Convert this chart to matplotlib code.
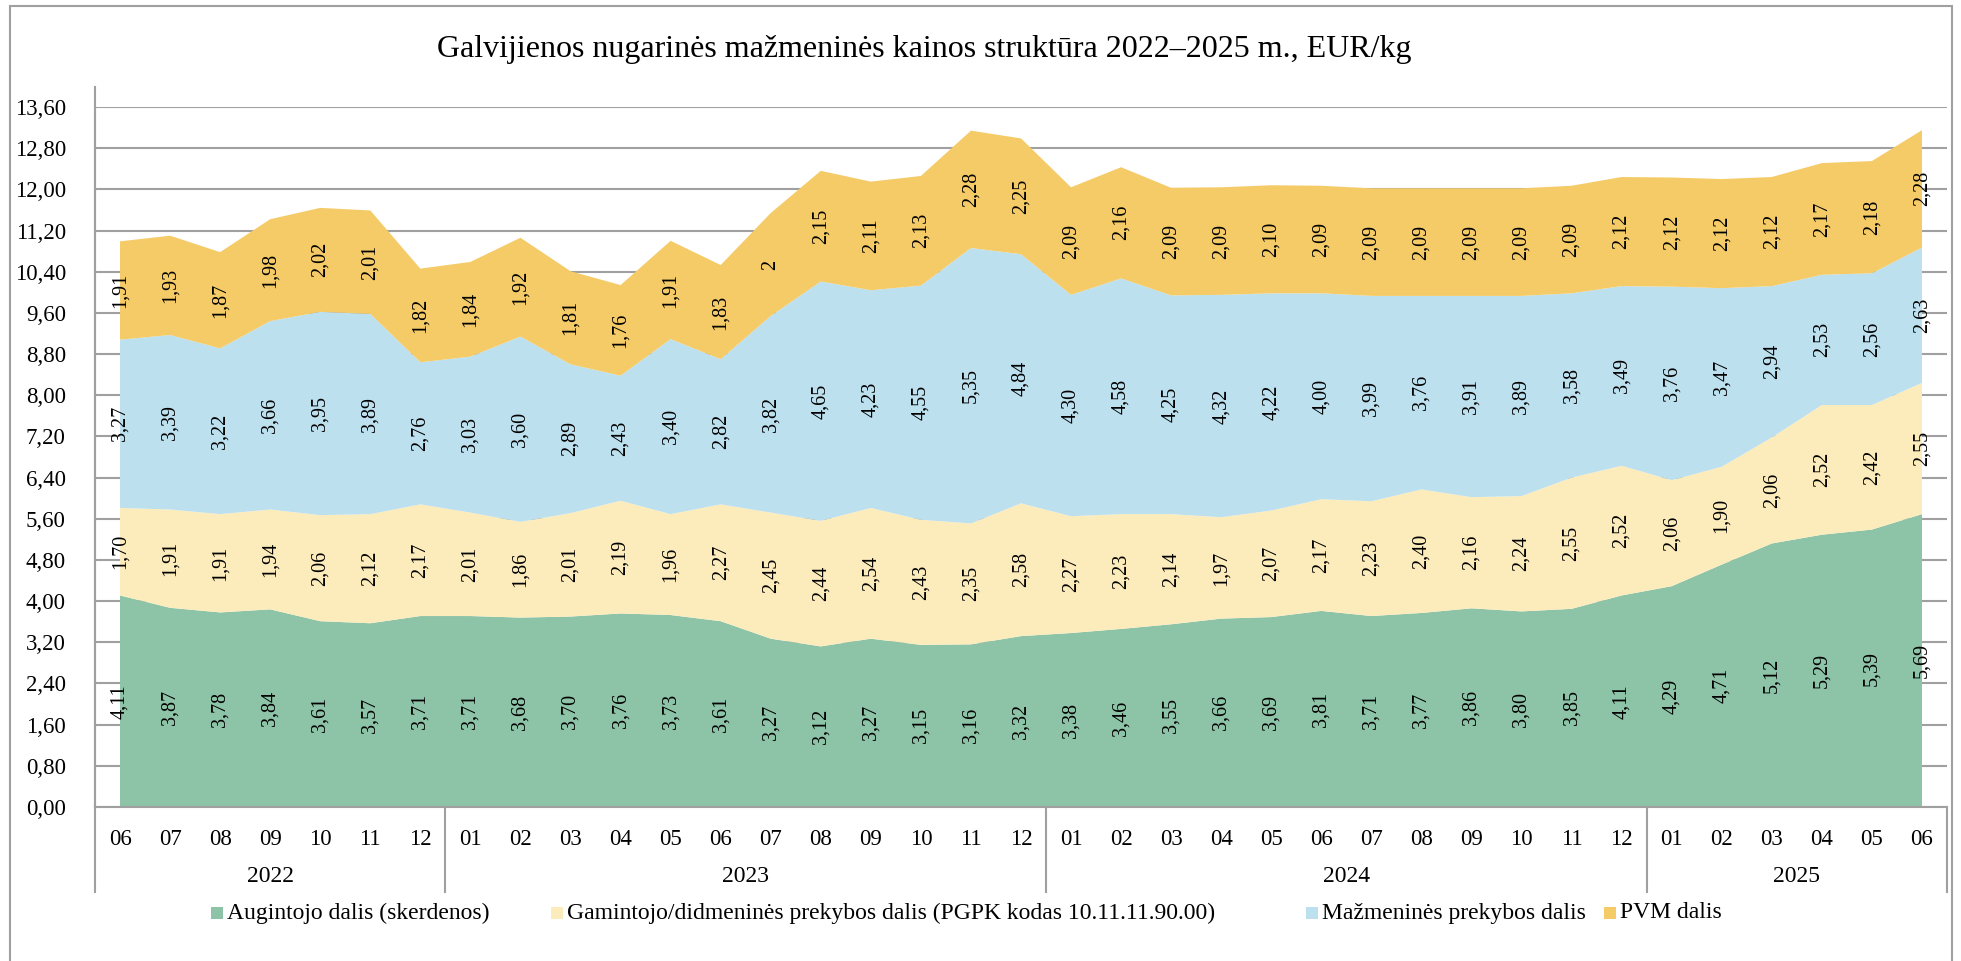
import matplotlib
matplotlib.use("Agg")
import matplotlib.pyplot as plt
from matplotlib.patches import Rectangle
import numpy as np

plt.rcParams["font.family"] = ["Liberation Serif", "DejaVu Serif"]

months = ["06", "07", "08", "09", "10", "11", "12",
          "01", "02", "03", "04", "05", "06", "07", "08", "09", "10", "11", "12",
          "01", "02", "03", "04", "05", "06", "07", "08", "09", "10", "11", "12",
          "01", "02", "03", "04", "05", "06"]
years = ["2022", "2023", "2024", "2025"]
year_sizes = [7, 12, 12, 6]

augintojo = [4.11, 3.87, 3.78, 3.84, 3.61, 3.57, 3.71,
             3.71, 3.68, 3.70, 3.76, 3.73, 3.61, 3.27, 3.12, 3.27, 3.15, 3.16, 3.32,
             3.38, 3.46, 3.55, 3.66, 3.69, 3.81, 3.71, 3.77, 3.86, 3.80, 3.85, 4.11,
             4.29, 4.71, 5.12, 5.29, 5.39, 5.69]
gamintojo = [1.70, 1.91, 1.91, 1.94, 2.06, 2.12, 2.17,
             2.01, 1.86, 2.01, 2.19, 1.96, 2.27, 2.45, 2.44, 2.54, 2.43, 2.35, 2.58,
             2.27, 2.23, 2.14, 1.97, 2.07, 2.17, 2.23, 2.40, 2.16, 2.24, 2.55, 2.52,
             2.06, 1.90, 2.06, 2.52, 2.42, 2.55]
mazmenines = [3.27, 3.39, 3.22, 3.66, 3.95, 3.89, 2.76,
              3.03, 3.60, 2.89, 2.43, 3.40, 2.82, 3.82, 4.65, 4.23, 4.55, 5.35, 4.84,
              4.30, 4.58, 4.25, 4.32, 4.22, 4.00, 3.99, 3.76, 3.91, 3.89, 3.58, 3.49,
              3.76, 3.47, 2.94, 2.53, 2.56, 2.63]
pvm = [1.91, 1.93, 1.87, 1.98, 2.02, 2.01, 1.82,
       1.84, 1.92, 1.81, 1.76, 1.91, 1.83, 2.00, 2.15, 2.11, 2.13, 2.28, 2.25,
       2.09, 2.16, 2.09, 2.09, 2.10, 2.09, 2.09, 2.09, 2.09, 2.09, 2.09, 2.12,
       2.12, 2.12, 2.12, 2.17, 2.18, 2.28]

series_names = ["Augintojo dalis (skerdenos)",
                "Gamintojo/didmeninės prekybos dalis (PGPK kodas 10.11.11.90.00)",
                "Mažmeninės prekybos dalis",
                "PVM dalis"]
colors = ["#8dc3a7", "#fdecbb", "#bde0ef", "#f4cb67"]
title = "Galvijienos nugarinės mažmeninės kainos struktūra 2022–2025 m., EUR/kg"


def fmt(v, drop_int=False):
    # the PVM series in the source shows a whole value without decimals ("2")
    if drop_int and float(v).is_integer():
        return str(int(v))
    return f"{v:.2f}".replace(".", ",")


W, H = 1961, 961
fig = plt.figure(figsize=(W / 100, H / 100), dpi=100, facecolor="white")

# outer chart border
fig.patches.append(Rectangle((10 / W, -0.05), 1942 / W, 1.05 - 6 / H,
                             transform=fig.transFigure, fill=False,
                             edgecolor="#a0a0a0", linewidth=1.5))

ax = fig.add_axes([95 / W, 1 - 807 / H, 1852 / W, 700 / H])
x = np.arange(len(months))
data = [augintojo, gamintojo, mazmenines, pvm]
ax.stackplot(x, *data, colors=colors, linewidth=0, zorder=2)

ax.set_xlim(-0.5, len(months) - 0.5)
ax.set_ylim(0, 13.6)
yt = np.arange(0, 13.61, 0.8)
ax.set_yticks(yt)
ax.set_yticklabels([f"{v:.2f}".replace(".", ",") for v in yt], fontsize=16.5)
ax.tick_params(axis="y", length=0, pad=21)
ax.grid(axis="y", color="#a0a0a0", linewidth=1.5, zorder=0)
ax.set_axisbelow(True)

ax.set_xticks(x)
ax.set_xticklabels(months, fontsize=16.5)
ax.tick_params(axis="x", length=0, pad=16)

for s in ["top", "right"]:
    ax.spines[s].set_visible(False)
for s in ["left", "bottom"]:
    ax.spines[s].set_color("#a0a0a0")
    ax.spines[s].set_linewidth(1.5)

# data labels
base = np.zeros(len(months))
for k, vals in enumerate(data):
    vals = np.array(vals)
    for i, v in enumerate(vals):
        ax.text(i, base[i] + v / 2, fmt(v, drop_int=(k == 3)), rotation=90,
                ha="center", va="center", fontsize=14.5, zorder=4)
    base += vals

# multi-level category axis
trans = ax.get_xaxis_transform()
sep_y = -85 / 700
start = 0
bounds = [-0.5]
for yr, n in zip(years, year_sizes):
    center = start + (n - 1) / 2
    ax.text(center, -70 / 700, yr, transform=trans, ha="center", va="center", fontsize=17)
    start += n
    bounds.append(start - 0.5)
for b in bounds:
    ax.plot([b, b], [0, sep_y], transform=trans, color="#a0a0a0", linewidth=1.5,
            clip_on=False, zorder=5)
ax.plot([-0.5, -0.5], [0, 1 + 20 / 700], transform=trans, color="#a0a0a0",
        linewidth=1.5, clip_on=False, zorder=5)

# title
fig.text(924 / W, 1 - 50 / H, title, ha="center", va="center", fontsize=23)

# legend
leg_x = [211, 551, 1306, 1604]
leg_y = 1 - 913 / H
for lx, name, c in zip(leg_x, series_names, colors):
    fig.patches.append(Rectangle((lx / W, leg_y - 6 / H), 12 / W, 12 / H,
                                 transform=fig.transFigure, facecolor=c, edgecolor="none"))
    fig.text((lx + 16) / W, leg_y, name, ha="left", va="center", fontsize=17)

fig.savefig("out.png", dpi=100, facecolor="white")
